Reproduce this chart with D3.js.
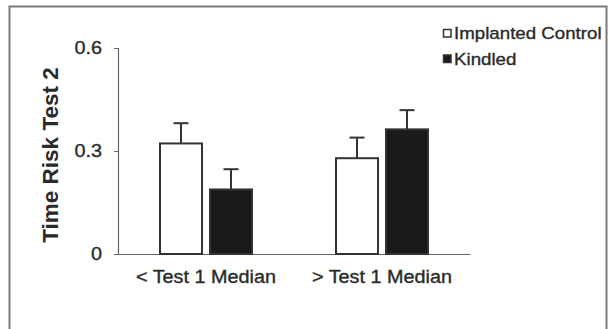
<!DOCTYPE html>
<html>
<head>
<meta charset="utf-8">
<script src="https://cdn.jsdelivr.net/npm/d3@7"></script>
<style>
  html, body { margin: 0; padding: 0; background: #fff; }
  svg { display: block; }
  text { font-family: "Liberation Sans", Arial, sans-serif; fill: #2a2a2a; }
</style>
</head>
<body>
<svg id="chart" width="609" height="329"></svg>
<script>
// Data
const categories = ["< Test 1 Median", "> Test 1 Median"];
const seriesNames = ["Implanted Control", "Kindled"];
const controlMeans = [0.322, 0.279];
const controlErrors = [0.059, 0.060];
const kindledMeans = [0.188, 0.363];
const kindledErrors = [0.059, 0.056];
const yTicks = [0, 0.3, 0.6];
const yTickLabels = ["0", "0.3", "0.6"];
const yTitle = "Time Risk Test 2";

const seriesFill = ["#ffffff", "#1a1a1a"];
const ink = "#333";
const textInk = "#2a2a2a";

const rows = categories.map((c, i) => ({
  category: c,
  values: [
    { series: seriesNames[0], mean: controlMeans[i], err: controlErrors[i] },
    { series: seriesNames[1], mean: kindledMeans[i], err: kindledErrors[i] }
  ]
}));

const svg = d3.select("#chart");

// Outer frame
svg.append("rect")
  .attr("x", 9.5).attr("y", 6.5)
  .attr("width", 597).attr("height", 340)
  .attr("fill", "none").attr("stroke", "#7a7a7a").attr("stroke-width", 2);

const plot = { left: 118, right: 470, top: 48, bottom: 254 };

const x = d3.scaleBand().domain(categories).range([plot.left, plot.right]).padding(0);
const xInner = d3.scaleBand().domain(seriesNames)
  .range([41, 135]).paddingInner(0.12).paddingOuter(0);
const y = d3.scaleLinear().domain([0, 0.6]).range([plot.bottom, plot.top]);

// Slightly wide lettering
const stretch = 1.1;
function widened(node) {
  const w = node.getComputedTextLength() * stretch;
  d3.select(node).attr("textLength", w).attr("lengthAdjust", "spacingAndGlyphs");
  return w;
}
function heavy(sel) {
  sel.attr("fill", textInk).attr("stroke", textInk).attr("stroke-width", 0.35);
}

// Y axis
const yAxis = d3.axisLeft(y)
  .tickValues(yTicks)
  .tickFormat((d, i) => yTickLabels[i])
  .tickSizeInner(4).tickSizeOuter(4).tickPadding(12);
const gy = svg.append("g").attr("transform", `translate(${plot.left},0)`).call(yAxis);
gy.select(".domain").attr("stroke", "#666").attr("stroke-width", 1.2);
gy.selectAll(".tick line").attr("stroke", "#666");
gy.selectAll(".tick text")
  .attr("font-size", 18)
  .attr("font-family", "Liberation Sans, Arial, sans-serif")
  .attr("text-anchor", "start")
  .call(heavy)
  .each(function () {
    const w = widened(this);
    d3.select(this).attr("x", -16 - w);
  });

// X axis baseline
const xAxis = d3.axisBottom(x).tickSize(0).tickPadding(0).tickFormat("");
const gx = svg.append("g").attr("transform", `translate(0,${plot.bottom})`).call(xAxis);
gx.select(".domain").attr("stroke", "#666").attr("stroke-width", 1.2);

// Category labels
svg.append("g").selectAll("text")
  .data(categories)
  .join("text")
  .attr("font-size", 18)
  .attr("y", 283)
  .text(d => d)
  .call(heavy)
  .each(function (d) {
    const w = widened(this);
    d3.select(this).attr("x", x(d) + x.bandwidth() / 2 - w / 2);
  });

// Bars
const groups = svg.append("g").selectAll("g")
  .data(rows)
  .join("g")
  .attr("transform", d => `translate(${x(d.category)},0)`);

// Error bars (drawn behind the bars)
groups.selectAll("g.err")
  .data(d => d.values)
  .join("g").attr("class", "err")
  .each(function (d) {
    const g = d3.select(this);
    const cx = xInner(d.series) + xInner.bandwidth() / 2;
    g.append("line")
      .attr("x1", cx).attr("x2", cx)
      .attr("y1", y(d.mean)).attr("y2", y(d.mean + d.err))
      .attr("stroke", ink).attr("stroke-width", 2);
    g.append("line")
      .attr("x1", cx - 7.5).attr("x2", cx + 7.5)
      .attr("y1", y(d.mean + d.err)).attr("y2", y(d.mean + d.err))
      .attr("stroke", ink).attr("stroke-width", 2);
  });

groups.selectAll("rect")
  .data(d => d.values)
  .join("rect")
  .attr("x", d => xInner(d.series) + 1)
  .attr("width", xInner.bandwidth() - 2)
  .attr("y", d => y(d.mean))
  .attr("height", d => y(0) - y(d.mean))
  .attr("fill", (d, i) => seriesFill[i])
  .attr("stroke", ink)
  .attr("stroke-width", 2);

// Y title
svg.append("text")
  .attr("transform", "translate(58,155) rotate(-90)")
  .attr("text-anchor", "middle")
  .attr("font-size", 22.5)
  .attr("font-weight", "bold")
  .attr("fill", textInk)
  .text(yTitle);

// Legend
const legend = svg.append("g").attr("transform", "translate(443,29)");
const items = legend.selectAll("g")
  .data(seriesNames)
  .join("g")
  .attr("transform", (d, i) => `translate(0,${i * 25.5})`);
items.append("rect")
  .attr("x", 0.5).attr("y", 0.5)
  .attr("width", 7.5).attr("height", 7.5)
  .attr("fill", (d, i) => seriesFill[i])
  .attr("stroke", ink).attr("stroke-width", 1.5);
items.append("text")
  .attr("x", 11).attr("y", 10)
  .attr("font-size", 17)
  .text(d => d)
  .call(heavy)
  .each(function () { widened(this); });
</script>
</body>
</html>
